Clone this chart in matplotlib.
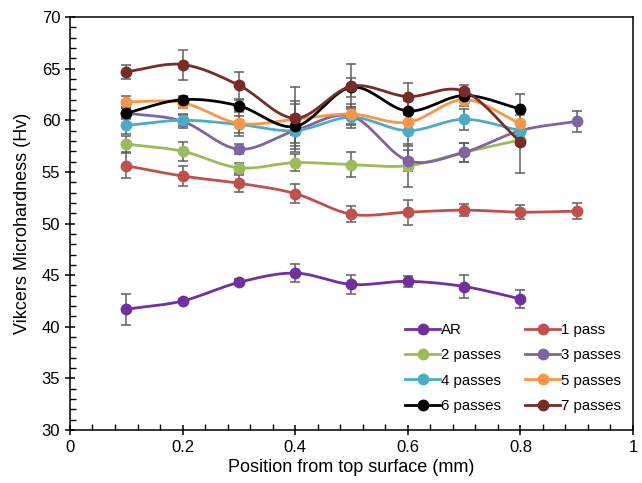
import numpy as np
import matplotlib
matplotlib.use("Agg")
import matplotlib.pyplot as plt
from matplotlib.ticker import MultipleLocator
from matplotlib.lines import Line2D

plt.rcParams['font.family'] = ['Liberation Sans', 'DejaVu Sans']

series_names = ["AR", "1 pass", "2 passes", "3 passes", "4 passes", "5 passes", "6 passes", "7 passes"]
colors = ["#7030A0", "#C0504D", "#9BBB59", "#8064A2", "#4BACC6", "#F79646", "#000000", "#772C2A"]

x_ar = [0.1, 0.2, 0.3, 0.4, 0.5, 0.6, 0.7, 0.8]
y_ar = [41.7, 42.5, 44.3, 45.2, 44.1, 44.4, 43.9, 42.7]
e_ar = [1.5, 0.2, 0.3, 0.9, 0.9, 0.5, 1.1, 0.9]

x_p1 = [0.1, 0.2, 0.3, 0.4, 0.5, 0.6, 0.7, 0.8, 0.9]
y_p1 = [55.6, 54.6, 53.9, 52.9, 50.9, 51.1, 51.3, 51.1, 51.2]
e_p1 = [1.2, 0.95, 0.8, 0.9, 0.8, 1.2, 0.6, 0.7, 0.8]

x_p2 = [0.1, 0.2, 0.3, 0.4, 0.5, 0.6, 0.7, 0.8]
y_p2 = [57.7, 57.0, 55.4, 55.9, 55.7, 55.6, 56.9, 58.1]
e_p2 = [0.8, 0.9, 0.5, 0.8, 1.2, 2.1, 0.9, 0.5]

x_p3 = [0.1, 0.2, 0.3, 0.4, 0.5, 0.6, 0.7, 0.8, 0.9]
y_p3 = [60.7, 59.9, 57.2, 59.0, 60.4, 56.1, 56.9, 59.0, 59.9]
e_p3 = [0.6, 0.6, 0.5, 1.5, 0.9, 1.0, 0.9, 0.6, 1.0]

x_p4 = [0.1, 0.2, 0.3, 0.4, 0.5, 0.6, 0.7, 0.8]
y_p4 = [59.5, 60.0, 59.6, 59.0, 60.3, 59.0, 60.1, 59.0]
e_p4 = [0.8, 0.6, 0.8, 1.2, 1.0, 1.5, 1.0, 0.7]

x_p5 = [0.1, 0.2, 0.3, 0.4, 0.5, 0.6, 0.7, 0.8]
y_p5 = [61.8, 61.7, 59.7, 60.1, 60.6, 59.8, 62.0, 59.7]
e_p5 = [0.6, 0.5, 1.2, 1.5, 1.0, 1.0, 0.6, 0.8]

x_p6 = [0.1, 0.2, 0.3, 0.4, 0.5, 0.6, 0.7, 0.8]
y_p6 = [60.7, 62.0, 61.4, 59.4, 63.2, 60.9, 62.4, 61.1]
e_p6 = [0.5, 0.4, 0.6, 2.5, 0.9, 1.0, 0.5, 1.4]

x_p7 = [0.1, 0.2, 0.3, 0.4, 0.5, 0.6, 0.7, 0.8]
y_p7 = [64.7, 65.4, 63.4, 60.2, 63.3, 62.3, 62.8, 57.9]
e_p7 = [0.7, 1.45, 1.3, 3.0, 2.2, 1.3, 0.6, 3.0]

xs = [x_ar, x_p1, x_p2, x_p3, x_p4, x_p5, x_p6, x_p7]
ys = [y_ar, y_p1, y_p2, y_p3, y_p4, y_p5, y_p6, y_p7]
es = [e_ar, e_p1, e_p2, e_p3, e_p4, e_p5, e_p6, e_p7]


def smooth(x, y, n=20):
    # Catmull-Rom curve through the points (Excel-like smoothed line)
    x = np.asarray(x, float)
    y = np.asarray(y, float)
    P = np.column_stack([x, y])
    P = np.vstack([P[0], P, P[-1]])
    P[0] = 2 * P[1] - P[2]
    P[-1] = 2 * P[-2] - P[-3]
    out = []
    t = np.linspace(0, 1, n)[:, None]
    for i in range(1, len(P) - 2):
        p0, p1, p2, p3 = P[i - 1], P[i], P[i + 1], P[i + 2]
        seg = 0.5 * ((2 * p1) + (-p0 + p2) * t + (2 * p0 - 5 * p1 + 4 * p2 - p3) * t ** 2
                     + (-p0 + 3 * p1 - 3 * p2 + p3) * t ** 3)
        out.append(seg if i == 1 else seg[1:])
    S = np.vstack(out)
    return S[:, 0], S[:, 1]


fig = plt.figure(figsize=(6.42, 4.83), dpi=100)
ax = fig.add_axes([0.109, 0.1097, 0.877, 0.855])

for i, (x, y, e, c) in enumerate(zip(xs, ys, es, colors)):
    ax.errorbar(x, y, yerr=e, fmt='none', ecolor='#606060', elinewidth=1.1,
                capsize=3.5, capthick=1.1, zorder=2 + i * 0.01)
    sx, sy = smooth(x, y)
    ax.plot(sx, sy, color=c, lw=2.0, zorder=3 + i * 0.1, solid_capstyle='round')
    ax.plot(x, y, 'o', color=c, ms=7.5, zorder=3.05 + i * 0.1)

ax.set_xlim(0, 1)
ax.set_ylim(30, 70)
ax.set_xticks([0, 0.2, 0.4, 0.6, 0.8, 1.0])
ax.set_xticklabels(["0", "0.2", "0.4", "0.6", "0.8", "1"])
ax.set_yticks(range(30, 71, 5))
ax.xaxis.set_minor_locator(MultipleLocator(0.04))
ax.yaxis.set_minor_locator(MultipleLocator(1))
ax.tick_params(which='major', direction='inout', length=7, width=1.1, labelsize=12)
ax.tick_params(which='minor', direction='in', length=4, width=1.0)
for s in ax.spines.values():
    s.set_linewidth(1.1)

ax.set_xlabel("Position from top surface (mm)", fontsize=13, labelpad=3)
ax.set_ylabel("Vikcers Microhardness (Hv)", fontsize=13, labelpad=8)

handles = [Line2D([0], [0], color=c, lw=2.0, marker='o', ms=7.5) for c in colors]
order = [0, 2, 4, 6, 1, 3, 5, 7]
leg = ax.legend([handles[k] for k in order], [series_names[k] for k in order],
                ncol=2, frameon=False, loc='lower left',
                bbox_to_anchor=(0.585, 0.027), fontsize=10.8, handlelength=2.3,
                handletextpad=0.1, columnspacing=1.6, labelspacing=0.75,
                borderaxespad=0.0)

fig.savefig("out.png", dpi=100)
